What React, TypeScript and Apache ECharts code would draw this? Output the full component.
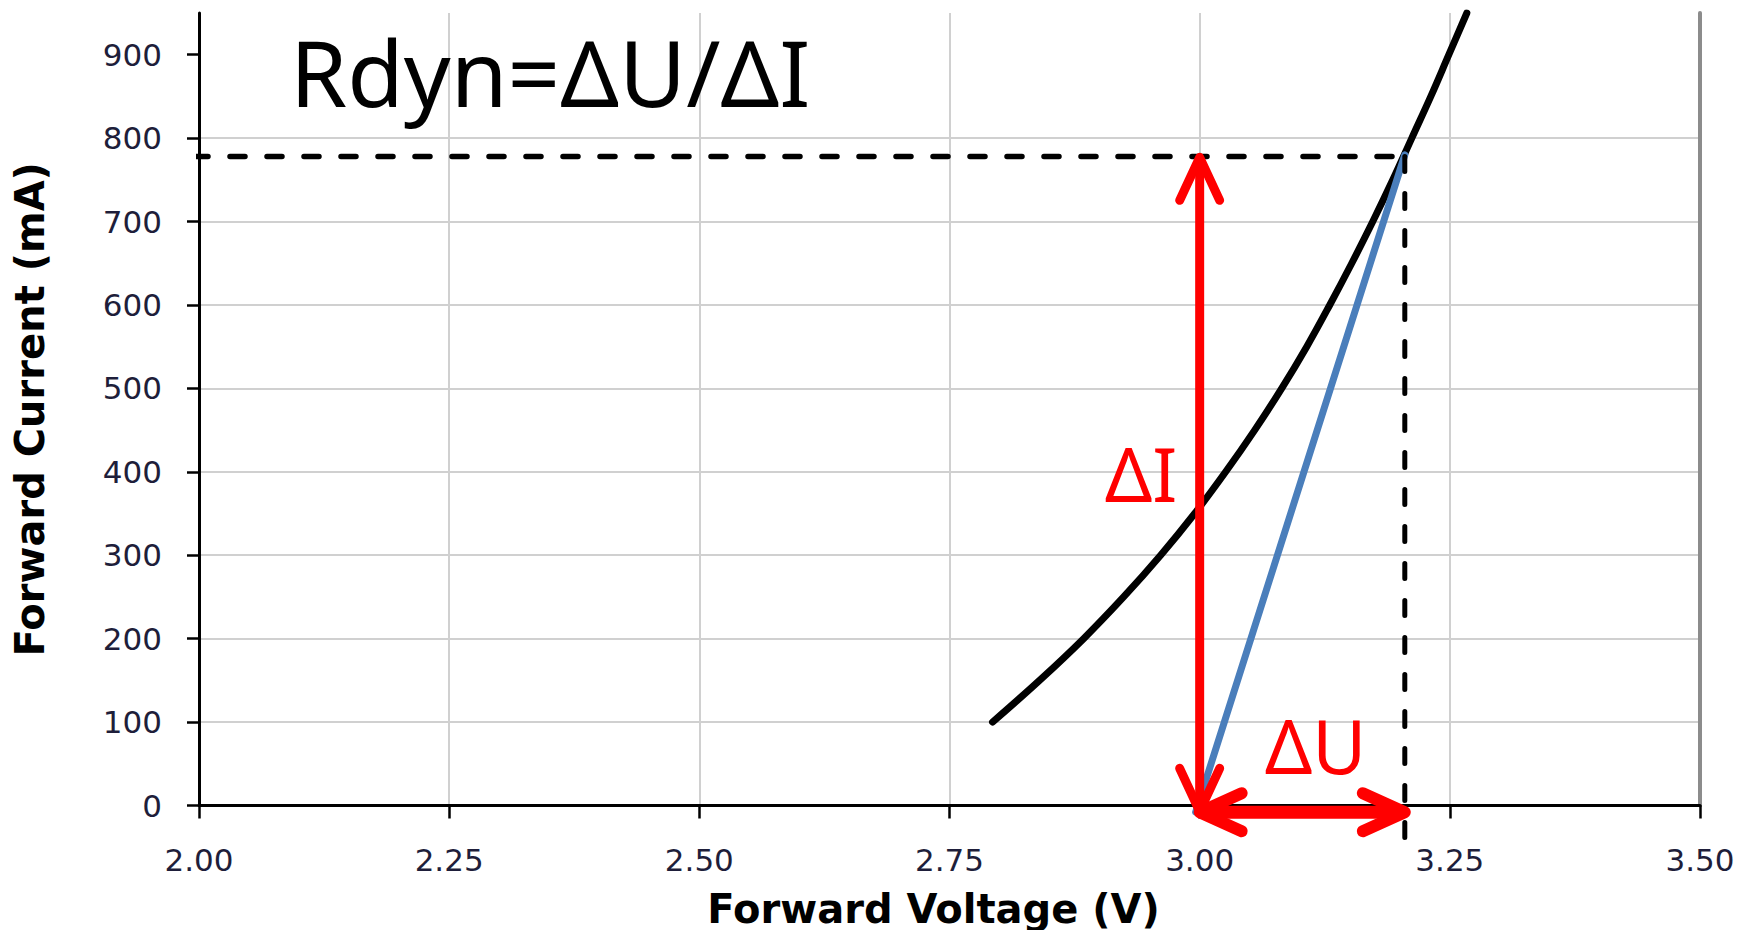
import { useEffect, useRef } from "react";
import * as echarts from "echarts";

// Forward voltage (V) / forward current (mA) curve
const voltage = [2.793, 2.84, 2.884, 2.924, 2.961, 2.995, 3.026, 3.055, 3.082, 3.107, 3.13, 3.152, 3.173, 3.193, 3.212, 3.231, 3.249, 3.267];
const current = [100, 150, 200, 250, 300, 350, 400, 450, 500, 550, 600, 650, 700, 750, 800, 850, 900, 950];

const yTickValues = [0, 100, 200, 300, 400, 500, 600, 700, 800, 900];
const xTickValues = [2.0, 2.25, 2.5, 2.75, 3.0, 3.25, 3.5];

// annotation geometry (data coordinates)
const dashedH = [[1.994, 778], [3.205, 778]];
const dashedV = [[3.205, 778], [3.205, -49]];
const tangent = [[2.996, -8], [3.205, 780]];
// [x1, y1, x2, y2] double-headed arrows
const arrows = [
  [3.0, -7, 3.0, 777],
  [3.0, -8, 3.205, -8],
];

const titleText = "Rdyn=ΔU/ΔI";
const deltaI = "ΔI";
const deltaU = "ΔU";

const ARROW_STYLE = [
  { shaft: 9, head: 9, len: 43, half: 20 },
  { shaft: 13, head: 12, len: 42, half: 19 },
];

export default function App() {
  const ref = useRef<HTMLDivElement>(null);
  useEffect(() => {
    if (!ref.current) return;
    const chart = echarts.init(ref.current, null, { renderer: "svg" });
    const curve = voltage.map((v, i) => [v, current[i]]);
    const labelColor = "#1e1e3a";

    const renderArrow = (params: any, api: any) => {
      const p1 = api.coord([api.value(0), api.value(1)]);
      const p2 = api.coord([api.value(2), api.value(3)]);
      const s = ARROW_STYLE[params.dataIndex];
      const dx = p2[0] - p1[0];
      const dy = p2[1] - p1[1];
      const l = Math.hypot(dx, dy);
      const ux = dx / l, uy = dy / l;
      const nx = -uy, ny = ux;
      const head = (tip: number[], dir: number) => [
        [tip[0] - dir * s.len * ux + s.half * nx, tip[1] - dir * s.len * uy + s.half * ny],
        [tip[0], tip[1]],
        [tip[0] - dir * s.len * ux - s.half * nx, tip[1] - dir * s.len * uy - s.half * ny],
      ];
      const stroke = "#ff0000";
      return {
        type: "group",
        children: [
          {
            type: "line",
            shape: { x1: p1[0] + ux * 4, y1: p1[1] + uy * 4, x2: p2[0] - ux * 4, y2: p2[1] - uy * 4 },
            style: { stroke, lineWidth: s.shaft, lineCap: "round" },
          },
          {
            type: "polyline",
            shape: { points: head(p2, 1) },
            style: { stroke, fill: "none", lineWidth: s.head, lineCap: "round", lineJoin: "round" },
          },
          {
            type: "polyline",
            shape: { points: head(p1, -1) },
            style: { stroke, fill: "none", lineWidth: s.head, lineCap: "round", lineJoin: "round" },
          },
        ],
      };
    };

    chart.setOption({
      animation: false,
      backgroundColor: "#ffffff",
      grid: { left: 199, right: 42, top: 13, bottom: 124.5, containLabel: false, outerBoundsMode: "none" },
      xAxis: {
        type: "value",
        min: 2,
        max: 3.5,
        interval: 0.25,
        name: "Forward Voltage (V)",
        nameLocation: "middle",
        nameGap: 83,
        nameTextStyle: {
          fontFamily: "DejaVu Sans",
          fontWeight: "bold",
          fontSize: 40,
          color: "#000",
          padding: [0, 32, 0, 0],
        },
        axisLine: { show: true, onZero: false, lineStyle: { color: "#000", width: 3 } },
        axisTick: { show: true, length: 13, lineStyle: { color: "#000", width: 2.5 } },
        axisLabel: {
          margin: 39,
          fontFamily: "DejaVu Sans",
          fontSize: 31,
          color: labelColor,
          formatter: (v: number) => v.toFixed(2),
          customValues: xTickValues,
        },
        splitLine: {
          show: true,
          showMinLine: false,
          showMaxLine: false,
          lineStyle: { color: "#d0d0d0", width: 2 },
        },
      },
      yAxis: [
        {
          type: "value",
          min: 0,
          max: 950,
          interval: 100,
          name: "Forward Current (mA)",
          nameLocation: "middle",
          nameGap: 149,
          nameTextStyle: {
            fontFamily: "DejaVu Sans",
            fontWeight: "bold",
            fontSize: 40,
            color: "#000",
          },
          axisLine: { show: true, onZero: false, lineStyle: { color: "#000", width: 3 } },
          axisTick: { show: true, length: 12, customValues: yTickValues, lineStyle: { color: "#000", width: 2.5 } },
          axisLabel: {
            margin: 37,
            fontFamily: "DejaVu Sans",
            fontSize: 31,
            color: labelColor,
            customValues: yTickValues,
          },
          splitLine: {
            show: true,
            showMinLine: false,
            showMaxLine: false,
            lineStyle: { color: "#d0d0d0", width: 2 },
          },
        },
        {
          type: "value",
          min: 0,
          max: 950,
          position: "right",
          axisLine: { show: true, onZero: false, lineStyle: { color: "#8c8c8c", width: 4 } },
          axisTick: { show: false },
          axisLabel: { show: false },
          splitLine: { show: false },
        },
      ],
      series: [
        {
          type: "line",
          data: curve,
          smooth: 0.4,
          symbol: "none",
          z: 2,
          lineStyle: { color: "#000", width: 7, cap: "round", join: "round" },
        },
        {
          type: "line",
          data: tangent,
          symbol: "none",
          clip: false,
          z: 3,
          lineStyle: { color: "#4a7ebb", width: 7, cap: "round" },
        },
        {
          type: "line",
          data: dashedH,
          symbol: "none",
          clip: false,
          z: 4,
          lineStyle: { color: "#000", width: 5.5, type: [15, 22], cap: "round" },
        },
        {
          type: "line",
          data: dashedV,
          symbol: "none",
          clip: false,
          z: 4,
          lineStyle: { color: "#000", width: 5, type: [15, 22], cap: "round" },
        },
        {
          type: "custom",
          data: arrows,
          clip: false,
          z: 5,
          encode: { x: [0, 2], y: [1, 3] },
          renderItem: renderArrow,
        },
      ],
      graphic: [
        {
          type: "text",
          x: 290,
          y: 71,
          z: 10,
          style: {
            text: titleText,
            fontFamily: "Noto Sans",
            fontSize: 92,
            fill: "#000",
            verticalAlign: "middle",
          },
        },
        {
          type: "text",
          x: 1105,
          y: 473,
          z: 10,
          style: {
            text: deltaI,
            fontFamily: "Noto Sans",
            fontSize: 74,
            fill: "#ff0000",
            verticalAlign: "middle",
          },
        },
        {
          type: "text",
          x: 1265,
          y: 745,
          z: 10,
          style: {
            text: deltaU,
            fontFamily: "Noto Sans",
            fontSize: 74,
            fill: "#ff0000",
            verticalAlign: "middle",
          },
        },
      ],
    });
    return () => chart.dispose();
  }, []);
  return (
    <div
      ref={ref}
      style={{ position: "fixed", left: 0, top: 0, width: 1742, height: 930, background: "#fff" }}
    />
  );
}
